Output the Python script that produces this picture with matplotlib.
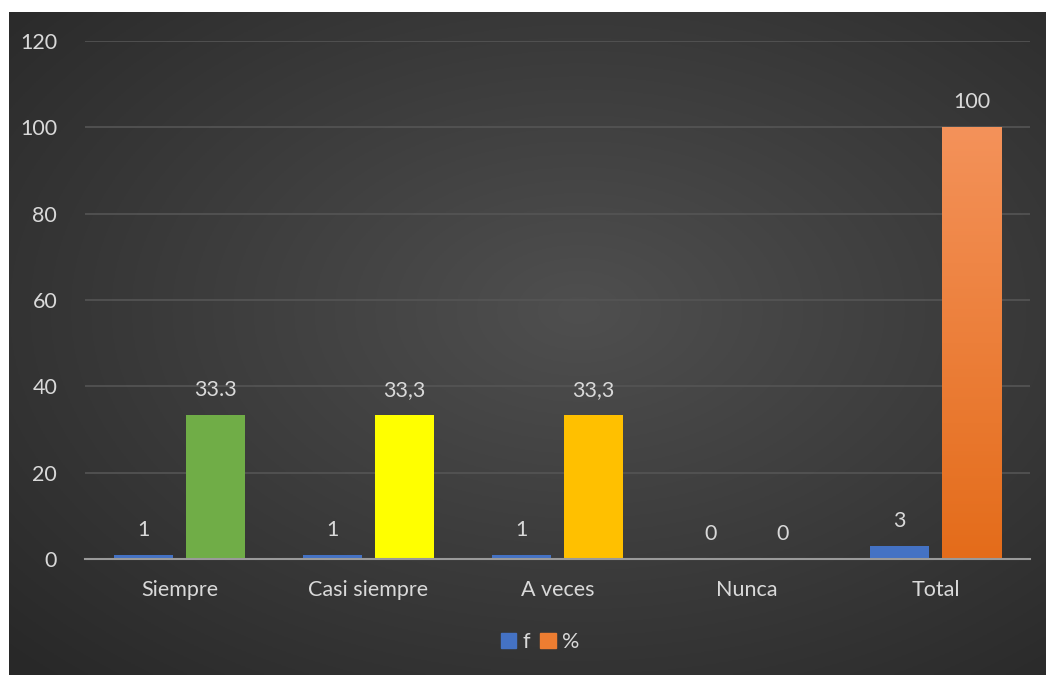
import numpy as np
import matplotlib
matplotlib.use("Agg")
import matplotlib.pyplot as plt
from matplotlib.patches import Patch

categorias = ["Siempre", "Casi siempre", "A veces", "Nunca", "Total"]
f_vals = [1, 1, 1, 0, 3]
pct_vals = [33.3, 33.3, 33.3, 0, 100]
f_labels = ["1", "1", "1", "0", "3"]
pct_labels = ["33.3", "33,3", "33,3", "0", "100"]

azul = "#4472c4"
colores_pct = ["#70ad47", "#ffff00", "#ffc000", "#ed7d31", "#ed7d31"]
texto = "#d9d9d9"

plt.rcParams['font.family'] = ['Lato', 'DejaVu Sans']

W, H = 1046, 675
fig = plt.figure(figsize=(W / 100, H / 100), dpi=100)
fig.patch.set_facecolor("white")

# fondo oscuro con degradado radial
bg = fig.add_axes([9 / W, 0, 1 - 9 / W, 1 - 12 / H])
bg.set_axis_off()
yy, xx = np.mgrid[0:1:300j, 0:1:460j]
r = np.sqrt(((xx - 0.55) / 0.75) ** 2 + ((yy - 0.55) / 0.75) ** 2)
r = np.clip(r, 0, 1)
val = 0.31 - 0.15 * r
img = np.dstack([val, val, val])
bg.imshow(img, extent=[0, 1, 0, 1], aspect="auto", origin="lower")

# área del gráfico
x0, x1 = 85, 1030
y0, y1 = 559, 41
ax = fig.add_axes([x0 / W, 1 - y0 / H, (x1 - x0) / W, (y0 - y1) / H])
ax.set_facecolor("none")
ax.set_ylim(0, 120)
ax.set_xlim(-0.5, len(categorias) - 0.5)

x = np.arange(len(categorias))
ancho = 0.315
sep = 0.068
off = (ancho + sep) / 2

ax.bar(x - off, f_vals, ancho, color=azul, zorder=3)
ax.bar(x + off, pct_vals, ancho, color=colores_pct, zorder=3)

# degradado de la barra Total
i = len(categorias) - 1
grad = np.linspace(0, 1, 200)[:, None]
cmap = matplotlib.colors.LinearSegmentedColormap.from_list("t", ["#e46c1a", "#f4925a"])
ax.imshow(grad, cmap=cmap, extent=[i + off - ancho / 2, i + off + ancho / 2, 0, pct_vals[i]],
          aspect="auto", origin="lower", zorder=4)

fs = 15.5
for xi, v, lab in zip(x - off, f_vals, f_labels):
    ax.text(xi, v + 3.5, lab, ha="center", va="bottom", color=texto, fontsize=fs)
for xi, v, lab in zip(x + off, pct_vals, pct_labels):
    ax.text(xi, v + 3.5, lab, ha="center", va="bottom", color=texto, fontsize=fs)

ax.set_yticks(range(0, 121, 20))
ax.yaxis.grid(True, color="#555555", linewidth=1.2, zorder=0)
ax.set_axisbelow(True)
for s in ["top", "right", "left"]:
    ax.spines[s].set_visible(False)
ax.spines["bottom"].set_color("#9a9a9a")
ax.spines["bottom"].set_linewidth(1.5)
ax.spines["bottom"].set_zorder(5)
ax.tick_params(axis="y", length=0, pad=20, labelsize=fs, labelcolor=texto)
ax.tick_params(axis="x", length=0, pad=15, labelsize=fs, labelcolor=texto)
ax.set_xticks(x)
ax.set_xticklabels(categorias)

handles = [Patch(color=azul, label="f"), Patch(color="#ed7d31", label="%")]
fig.legend(handles=handles, loc="center", bbox_to_anchor=(540 / W, 1 - 642 / H), ncol=2,
           frameon=False, fontsize=fs, labelcolor=texto, handlelength=0.7, handleheight=0.7,
           handletextpad=0.3, columnspacing=0.5)

fig.savefig("out.png", dpi=100)
